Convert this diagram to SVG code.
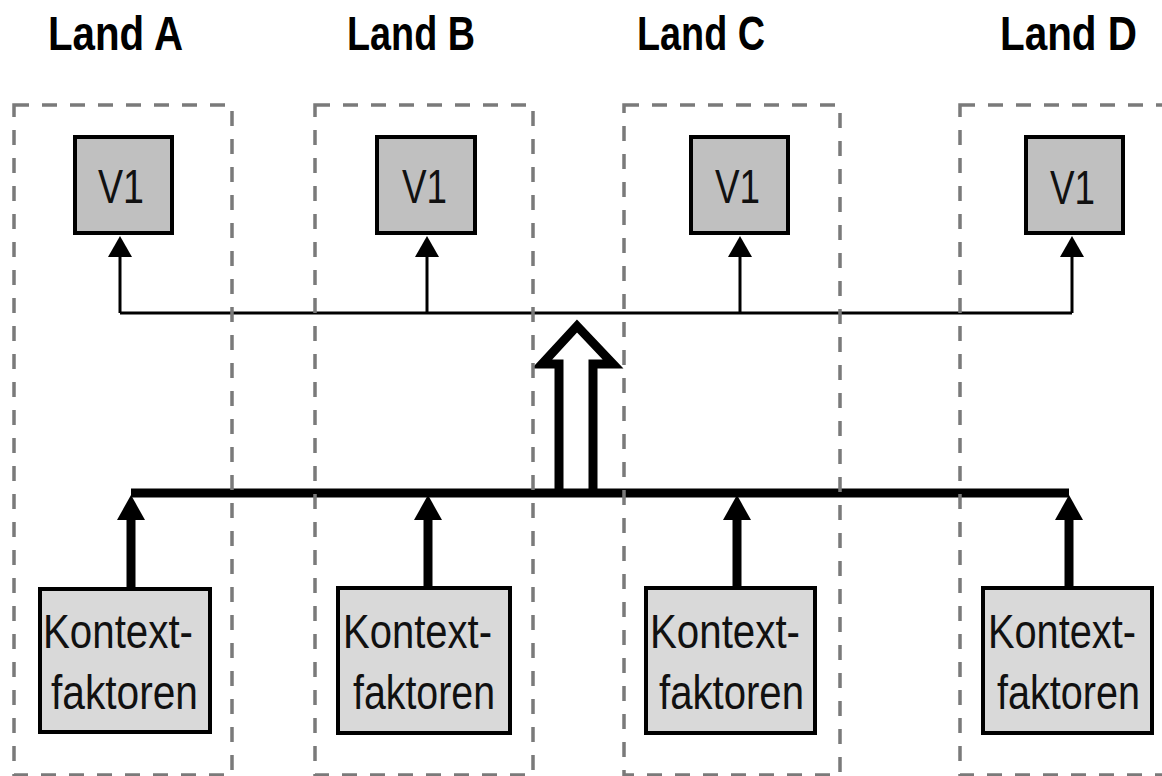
<svg xmlns="http://www.w3.org/2000/svg" width="1162" height="776" viewBox="0 0 1162 776">
  <style>
    .title { font-family: "Liberation Sans", Arial, sans-serif; font-weight: bold; font-size: 49px; fill: #000; }
    .lbl { font-family: "Liberation Sans", Arial, sans-serif; font-size: 48px; fill: #111; }
    .frame { fill: none; stroke: #7a7a7a; stroke-width: 3.5; stroke-dasharray: 15 13; }
    .v1 { fill: #c0c0c0; stroke: #000; stroke-width: 4; }
    .ctx { fill: #d9d9d9; stroke: #000; stroke-width: 4; }
    .thin { fill: none; stroke: #000; stroke-width: 3; }
    .thick { fill: none; stroke: #000; stroke-width: 9; }
  </style>
  <rect width="1162" height="776" fill="#fff"/>

  <!-- country titles -->
  <text class="title" x="48" y="50" textLength="135" lengthAdjust="spacingAndGlyphs">Land A</text>
  <text class="title" x="347" y="50" textLength="128" lengthAdjust="spacingAndGlyphs">Land B</text>
  <text class="title" x="637" y="50" textLength="128" lengthAdjust="spacingAndGlyphs">Land C</text>
  <text class="title" x="1000" y="50" textLength="137" lengthAdjust="spacingAndGlyphs">Land D</text>

  <!-- connectors -->
  <g id="connectors">
    <!-- thin distribution line to the V1 boxes -->
    <path class="thin" d="M120,313 H1072"/>
    <path class="thin" d="M120,313 V257"/>
    <path class="thin" d="M427,313 V257"/>
    <path class="thin" d="M740,313 V257"/>
    <path class="thin" d="M1072,313 V257"/>
    <path d="M108,257 L120,236 L132,257 Z" fill="#000"/>
    <path d="M415,257 L427,236 L439,257 Z" fill="#000"/>
    <path d="M728,257 L740,236 L752,257 Z" fill="#000"/>
    <path d="M1060,257 L1072,236 L1084,257 Z" fill="#000"/>

    <!-- hollow block arrow -->
    <path d="M559,493 V364 H542 L577,326 L613,364 H593 V493" fill="#fff" stroke="#000" stroke-width="9" stroke-linejoin="miter"/>

    <!-- thick collecting line from the context factors -->
    <path class="thick" d="M131,493 H1069"/>
    <path class="thick" d="M131,587 V517"/>
    <path class="thick" d="M428,587 V517"/>
    <path class="thick" d="M737,587 V517"/>
    <path class="thick" d="M1069,587 V517"/>
    <path d="M117,520 L131,495 L145,520 Z" fill="#000"/>
    <path d="M414,520 L428,495 L442,520 Z" fill="#000"/>
    <path d="M723,520 L737,495 L751,520 Z" fill="#000"/>
    <path d="M1055,520 L1069,495 L1083,520 Z" fill="#000"/>
  </g>

  <!-- country frames -->
  <g id="land-a"><rect class="frame" x="14" y="105" width="218" height="670"/></g>
  <g id="land-b"><rect class="frame" x="315" y="105" width="218" height="670"/></g>
  <g id="land-c"><rect class="frame" x="624" y="105" width="216" height="670"/></g>
  <g id="land-d"><rect class="frame" x="960" y="105" width="218" height="670"/></g>

  <!-- V1 nodes -->
  <g id="v1-a">
    <rect class="v1" x="75" y="137" width="97" height="96"/>
    <text class="lbl" x="98" y="203" textLength="46" lengthAdjust="spacingAndGlyphs">V1</text>
  </g>
  <g id="v1-b">
    <rect class="v1" x="377" y="137" width="98" height="96"/>
    <text class="lbl" x="402" y="203" textLength="45" lengthAdjust="spacingAndGlyphs">V1</text>
  </g>
  <g id="v1-c">
    <rect class="v1" x="691" y="137" width="97" height="96"/>
    <text class="lbl" x="715" y="203" textLength="45" lengthAdjust="spacingAndGlyphs">V1</text>
  </g>
  <g id="v1-d">
    <rect class="v1" x="1026" y="137" width="97" height="96"/>
    <text class="lbl" x="1050" y="204" textLength="45" lengthAdjust="spacingAndGlyphs">V1</text>
  </g>

  <!-- context factor nodes -->
  <g id="ctx-a">
    <rect class="ctx" x="40" y="589" width="170" height="143"/>
    <text class="lbl" x="43" y="648" textLength="150" lengthAdjust="spacingAndGlyphs">Kontext-</text>
    <text class="lbl" x="51" y="709" textLength="147" lengthAdjust="spacingAndGlyphs">faktoren</text>
  </g>
  <g id="ctx-b">
    <rect class="ctx" x="338" y="588" width="172" height="145"/>
    <text class="lbl" x="343" y="648" textLength="149" lengthAdjust="spacingAndGlyphs">Kontext-</text>
    <text class="lbl" x="353" y="709" textLength="142" lengthAdjust="spacingAndGlyphs">faktoren</text>
  </g>
  <g id="ctx-c">
    <rect class="ctx" x="646" y="588" width="169" height="145"/>
    <text class="lbl" x="650" y="648" textLength="150" lengthAdjust="spacingAndGlyphs">Kontext-</text>
    <text class="lbl" x="659" y="709" textLength="145" lengthAdjust="spacingAndGlyphs">faktoren</text>
  </g>
  <g id="ctx-d">
    <rect class="ctx" x="983" y="588" width="169" height="145"/>
    <text class="lbl" x="988" y="648" textLength="148" lengthAdjust="spacingAndGlyphs">Kontext-</text>
    <text class="lbl" x="997" y="709" textLength="143" lengthAdjust="spacingAndGlyphs">faktoren</text>
  </g>
</svg>
